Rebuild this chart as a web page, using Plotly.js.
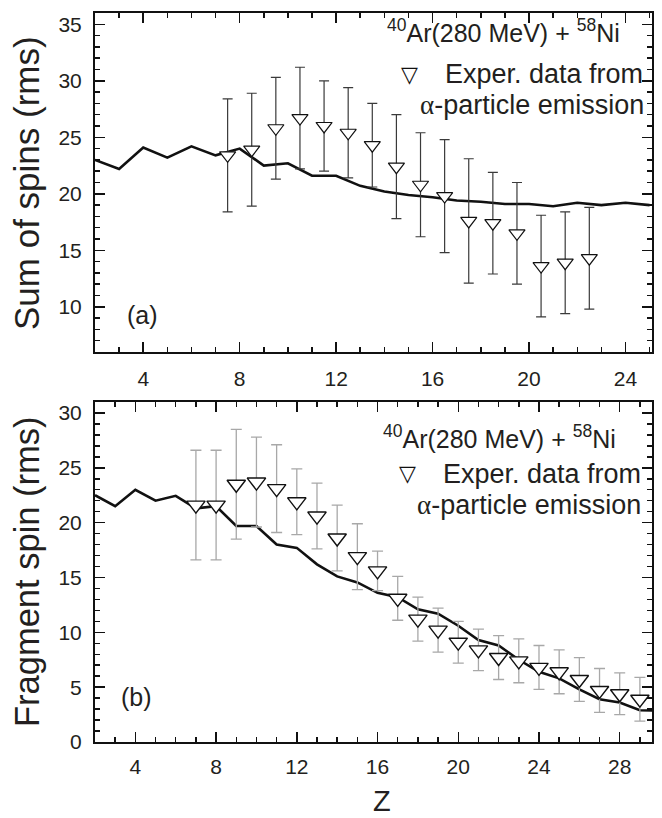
<!DOCTYPE html>
<html>
<head>
<meta charset="utf-8">
<script src="https://cdn.plot.ly/plotly-3.0.1.min.js"></script>
<style>
  html, body { margin: 0; padding: 0; background: #fff; }
  #chart { width: 662px; height: 818px; }
</style>
</head>
<body>
<div id="chart"></div>
<script>
// ---- Panel (a): sum of spins ----
const calcZ_a = [2, 3, 4, 5, 6, 7, 8, 9, 10, 11, 12, 13, 14, 15, 16, 17, 18, 19, 20, 21, 22, 23, 24, 25];
const calc_a  = [23.0, 22.2, 24.1, 23.2, 24.2, 23.4, 24.0, 22.5, 22.7, 21.6, 21.6, 20.7, 20.2, 19.9, 19.7, 19.4, 19.3, 19.1, 19.1, 18.9, 19.2, 19.0, 19.2, 19.0];
const expZ_a  = [7.5, 8.5, 9.5, 10.5, 11.5, 12.5, 13.5, 14.5, 15.5, 16.5, 17.5, 18.5, 19.5, 20.5, 21.5, 22.5];
const exp_a   = [23.4, 23.9, 25.8, 26.7, 26.0, 25.4, 24.3, 22.4, 20.8, 19.8, 17.6, 17.4, 16.5, 13.6, 13.9, 14.3];
const err_a   = [5.0, 5.0, 4.5, 4.5, 4.0, 4.0, 3.7, 4.6, 4.6, 5.0, 5.5, 4.5, 4.5, 4.5, 4.5, 4.5];

// ---- Panel (b): fragment spin ----
const calcZ_b = [2, 3, 4, 5, 6, 7, 8, 9, 10, 11, 12, 13, 14, 15, 16, 17, 18, 19, 20, 21, 22, 23, 24, 25, 26, 27, 28, 29, 30];
const calc_b  = [22.5, 21.5, 23.0, 22.0, 22.45, 21.3, 21.5, 19.7, 19.7, 18.0, 17.7, 16.2, 15.1, 14.55, 13.6, 13.2, 12.1, 11.7, 10.6, 9.3, 8.8, 7.5, 6.4, 5.8, 4.8, 3.9, 3.6, 2.9, 2.85];
const expZ_b  = [7, 8, 9, 10, 11, 12, 13, 14, 15, 16, 17, 18, 19, 20, 21, 22, 23, 24, 25, 26, 27, 28, 29];
const exp_b   = [21.6, 21.6, 23.5, 23.7, 23.1, 21.9, 20.6, 18.6, 16.9, 15.6, 13.1, 11.2, 10.2, 9.1, 8.4, 7.7, 7.4, 6.8, 6.4, 5.7, 4.7, 4.4, 3.9];
const err_b   = [5.0, 5.0, 5.0, 4.1, 4.0, 3.0, 3.0, 3.0, 3.0, 1.8, 2.0, 2.0, 2.0, 1.9, 1.9, 2.0, 2.0, 2.0, 2.0, 2.0, 2.0, 1.9, 2.0];

// ---- Text ----
const yTitle_a = "Sum of spins (rms)";
const yTitle_b = "Fragment spin (rms)";
const xTitle   = "Z";
const reaction = "<sup>40</sup>Ar(280 MeV) + <sup>58</sup>Ni";
const legLine1 = "Exper. data from";
const legLine2 = "<span style=\"font-family:'Liberation Serif'\">α</span>-particle emission";

const FONT = "'Liberation Sans', Arial, sans-serif";
const TXT = "#231f20";

const traces = [
  { x: calcZ_a, y: calc_a, xaxis: 'x', yaxis: 'y', mode: 'lines', type: 'scatter',
    line: { color: '#111', width: 2.6 }, showlegend: false, hoverinfo: 'skip' },
  { x: expZ_a, y: exp_a, xaxis: 'x', yaxis: 'y', mode: 'markers', type: 'scatter',
    marker: { symbol: 'triangle-down', size: 14, color: '#fff', line: { color: '#111', width: 1.2 } },
    error_y: { type: 'data', array: err_a, visible: true, color: '#3a3a3a', thickness: 1.2, width: 5 },
    showlegend: false },
  { x: calcZ_b, y: calc_b, xaxis: 'x2', yaxis: 'y2', mode: 'lines', type: 'scatter',
    line: { color: '#111', width: 2.6 }, showlegend: false, hoverinfo: 'skip' },
  { x: expZ_b, y: exp_b, xaxis: 'x2', yaxis: 'y2', mode: 'markers', type: 'scatter',
    marker: { symbol: 'triangle-down', size: 16, color: '#fff', line: { color: '#111', width: 1.4 } },
    error_y: { type: 'data', array: err_b, visible: true, color: '#a8a8a8', thickness: 1.3, width: 5.5 },
    showlegend: false }
];

function ax(extra) {
  return Object.assign({
    showline: true, linecolor: '#111', linewidth: 2, mirror: 'ticks',
    ticks: 'inside', ticklen: 10, tickwidth: 1.5, tickcolor: '#111',
    minor: { ticks: 'inside', ticklen: 5, tickwidth: 1.5, tickcolor: '#111', dtick: 1, showgrid: false },
    showgrid: false, zeroline: false,
    tickfont: { family: FONT, size: 21, color: TXT },
    tick0: 0
  }, extra);
}

const px = v => (v - 95) / 557;
const py = v => (742 - v) / 729;

const LEG = 27;
const annotations = [
  { text: yTitle_a, x: px(27), y: py(183), textangle: -90, font: { family: FONT, size: 35, color: TXT } },
  { text: yTitle_b, x: px(27), y: py(572), textangle: -90, font: { family: FONT, size: 34.5, color: TXT } },
  { text: xTitle, x: px(382), y: py(801), font: { family: FONT, size: 29, color: TXT } },
  { text: "(a)", x: px(142), y: py(315), font: { family: FONT, size: 25, color: TXT } },
  { text: "(b)", x: px(136), y: py(697), font: { family: FONT, size: 25, color: TXT } },
  { text: reaction, x: px(622), y: py(31), xanchor: 'right', font: { family: FONT, size: 25, color: TXT } },
  { text: legLine1, x: px(645), y: py(74), xanchor: 'right', font: { family: FONT, size: LEG, color: TXT } },
  { text: legLine2, x: px(646), y: py(105), xanchor: 'right', font: { family: FONT, size: LEG, color: TXT } },
  { text: "▽", x: px(409), y: py(74), font: { family: "'DejaVu Sans'", size: 22, color: '#111' } },
  { text: reaction, x: px(618), y: py(437), xanchor: 'right', font: { family: FONT, size: 25, color: TXT } },
  { text: legLine1, x: px(643), y: py(474), xanchor: 'right', font: { family: FONT, size: LEG, color: TXT } },
  { text: legLine2, x: px(643), y: py(505), xanchor: 'right', font: { family: FONT, size: LEG, color: TXT } },
  { text: "▽", x: px(407), y: py(473), font: { family: "'DejaVu Sans'", size: 22, color: '#111' } }
].map(a => Object.assign({ xref: 'paper', yref: 'paper', showarrow: false, xanchor: 'center', yanchor: 'middle' }, a));

const layout = {
  width: 662, height: 818,
  margin: { l: 95, r: 10, t: 13, b: 76 },
  paper_bgcolor: '#fff', plot_bgcolor: '#fff',
  showlegend: false,
  xaxis:  ax({ domain: [0, 1], anchor: 'y',  range: [2, 25.1], dtick: 4, ticklabelstandoff: 7 }),
  yaxis:  ax({ domain: [0.535, 1], anchor: 'x', range: [6, 36], dtick: 5, ticklabelstandoff: 7 }),
  xaxis2: ax({ domain: [0, 1], anchor: 'y2', range: [2, 29.6], dtick: 4, ticklabelstandoff: 5 }),
  yaxis2: ax({ domain: [0, 0.4664], anchor: 'x2', range: [0, 31], dtick: 5, ticklabelstandoff: 7 }),
  annotations: annotations
};

Plotly.newPlot('chart', traces, layout, { displayModeBar: false, staticPlot: true });
</script>
</body>
</html>
